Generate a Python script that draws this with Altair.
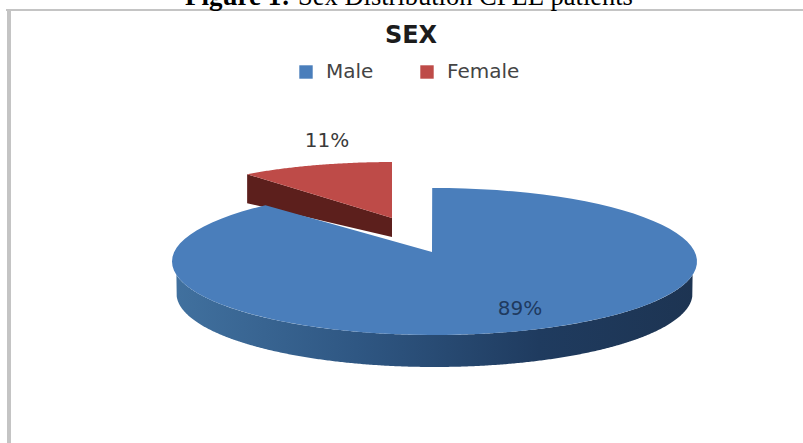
import math

import altair as alt
import pandas as pd

# Chart values
sexes = ["Male", "Female"]
shares = [89, 11]
colors = ["#4a7ebb", "#be4b48"]
label_tones = ["#1f3a5f", "#3a3a3a"]
label_x = [520, 327]
label_y = [309, 141]

# Projection of the tilted disc: centre, radii and hub of each slice
male_disc = dict(cx=434.5, cy=261.5, rx=262.5, ry=73.5, hub=(432, 252))
female_disc = dict(cx=394, cy=214, rx=228, ry=52, hub=(392, 218))
start_angle = -0.5
rim_depth = 32
rim_lower_rx = 258


def on_disc(disc, degrees):
    t = math.radians(degrees)
    return disc["cx"] + disc["rx"] * math.sin(t), disc["cy"] - disc["ry"] * math.cos(t)


def slice_rows(sex, disc, start, end, steps=90):
    pts = [disc["hub"]]
    pts += [on_disc(disc, start + (end - start) * i / steps) for i in range(steps + 1)]
    pts.append(disc["hub"])
    return [dict(sex=sex, i=i, x=p[0], y=p[1]) for i, p in enumerate(pts)]


male_sweep = shares[0] / sum(shares) * 360
faces = pd.DataFrame(
    slice_rows("Female", female_disc, male_sweep + start_angle, 360 + start_angle)
    + slice_rows("Male", male_disc, start_angle, male_sweep + start_angle)
)

# Male rim: the visible lower half of the disc, above a slightly narrower base
rim_rows = []
for i in range(481):
    x, y = on_disc(male_disc, 90 + 180 * i / 480)
    dx = (x - male_disc["cx"]) / rim_lower_rx
    if abs(dx) < 1:
        base = male_disc["cy"] + rim_depth + male_disc["ry"] * math.sqrt(1 - dx * dx)
    else:
        base = y
    rim_rows.append(dict(x=x, y=y, y2=max(base, y)))
rim = pd.DataFrame(rim_rows)

# Female wall: the cut edge facing the viewer
fx, fy = on_disc(female_disc, male_sweep + start_angle)
hx, hy = female_disc["hub"]
wall = pd.DataFrame([dict(x=fx, y=fy, y2=fy + 29), dict(x=hx, y=hy, y2=hy + 19)])

x_scale = alt.Scale(domain=[0, 803], range=[0, 803])
y_scale = alt.Scale(domain=[0, 443], range=[0, 443])
no_axis_x = alt.X("x:Q", scale=x_scale, axis=None)
no_axis_y = alt.Y("y:Q", scale=y_scale, axis=None)

wall_layer = alt.Chart(wall).mark_area(color="#5c1f1c").encode(
    x=no_axis_x, y=no_axis_y, y2="y2:Q"
)

rim_layer = (
    alt.Chart(rim)
    .mark_area(
        fill=alt.Gradient(
            gradient="linear",
            x1=0, x2=1, y1=0, y2=0,
            stops=[
                alt.GradientStop(offset=0, color="#41719f"),
                alt.GradientStop(offset=0.35, color="#2f5783"),
                alt.GradientStop(offset=0.7, color="#1f3b5f"),
                alt.GradientStop(offset=1, color="#1d3452"),
            ],
        )
    )
    .encode(x=no_axis_x, y=no_axis_y, y2="y2:Q")
)

face_layer = (
    alt.Chart(faces)
    .mark_line(filled=True, strokeWidth=0)
    .encode(
        x=no_axis_x,
        y=no_axis_y,
        order="i:Q",
        detail="sex:N",
        color=alt.Color(
            "sex:N",
            scale=alt.Scale(domain=sexes, range=colors),
            sort=sexes,
            legend=alt.Legend(
                title=None,
                orient="none",
                legendX=296,
                legendY=62,
                direction="horizontal",
                symbolType="square",
                symbolSize=180,
                symbolStrokeWidth=0,
                labelFont="DejaVu Sans",
                labelFontSize=20,
                labelColor="#444444",
                columnPadding=43,
                labelOffset=10,
            ),
        ),
    )
)


def value_label(index):
    row = pd.DataFrame(
        [dict(text=f"{shares[index]}%", x=label_x[index], y=label_y[index])]
    )
    return (
        alt.Chart(row)
        .mark_text(font="DejaVu Sans", fontSize=20, color=label_tones[index])
        .encode(x=no_axis_x, y=no_axis_y, text="text:N")
    )


# Chart title and the figure caption cut by the top edge
title_layer = (
    alt.Chart(pd.DataFrame([dict(text="SEX", x=411, y=36)]))
    .mark_text(font="DejaVu Sans", fontSize=24, fontWeight="bold", color="#1c1c1c")
    .encode(x=no_axis_x, y=no_axis_y, text="text:N")
)
caption_bold = (
    alt.Chart(pd.DataFrame([dict(text="Figure 1:", x=185, y=5)]))
    .mark_text(
        font="Liberation Serif", fontSize=27, fontWeight="bold", color="#000000",
        align="left", baseline="alphabetic",
    )
    .encode(x=no_axis_x, y=no_axis_y, text="text:N")
)
caption_plain = (
    alt.Chart(pd.DataFrame([dict(text="Sex Distribution CPLE patients", x=298, y=5)]))
    .mark_text(
        font="Liberation Serif", fontSize=26.5, color="#000000",
        align="left", baseline="alphabetic",
    )
    .encode(x=no_axis_x, y=no_axis_y, text="text:N")
)

# Gray frame around the chart
frame_h = (
    alt.Chart(pd.DataFrame([dict(x=6, x2=803, y=10)]))
    .mark_rule(color="#c4c4c4", strokeWidth=2)
    .encode(x=no_axis_x, x2="x2:Q", y=no_axis_y)
)
frame_v = (
    alt.Chart(pd.DataFrame([dict(x=9, y=10, y2=443)]))
    .mark_rule(color="#c4c4c4", strokeWidth=4)
    .encode(x=no_axis_x, y=no_axis_y, y2="y2:Q")
)

chart = (
    alt.layer(
        frame_h, frame_v, wall_layer, rim_layer, face_layer,
        value_label(0), value_label(1), title_layer, caption_bold, caption_plain,
    )
    .properties(width=803, height=443, padding=0, autosize=alt.AutoSizeParams(type="none"))
    .configure_view(stroke=None)
)

chart.save("out.html", embed_options={"renderer": "svg", "actions": False})
